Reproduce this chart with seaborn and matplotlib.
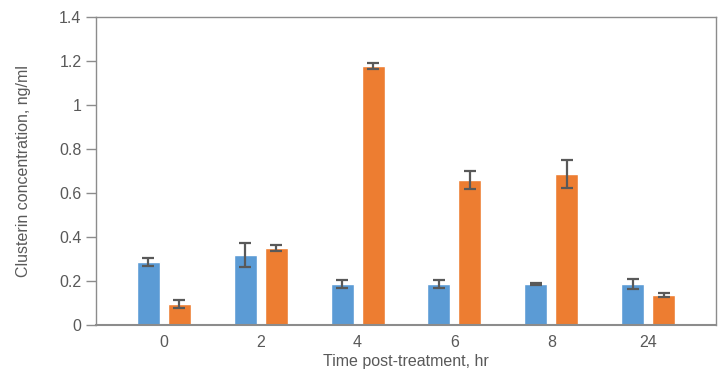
import numpy as np
import pandas as pd
import matplotlib
matplotlib.use("Agg")
import matplotlib.pyplot as plt
from matplotlib.ticker import FuncFormatter
import seaborn as sns

# ── Data ──────────────────────────────────────────────────────────────────────
time_labels = ["0", "2", "4", "6", "8", "24"]
series_names = ["Control", "Treated"]
control_mean = [0.286, 0.318, 0.186, 0.186, 0.186, 0.186]
control_err = [0.020, 0.055, 0.020, 0.020, 0.003, 0.021]
treated_mean = [0.095, 0.350, 1.177, 0.659, 0.686, 0.136]
treated_err = [0.018, 0.015, 0.015, 0.040, 0.063, 0.010]

BLUE = "#5B9BD5"
ORANGE = "#ED7D31"
GREY_TXT = "#595959"
GREY_LINE = "#8C8C8C"

df = pd.DataFrame({
    "time": time_labels * 2,
    "group": [series_names[0]] * 6 + [series_names[1]] * 6,
    "conc": control_mean + treated_mean,
    "err": control_err + treated_err,
})

sns.set_style("white")
plt.rcParams["font.family"] = ["Liberation Sans", "DejaVu Sans"]

fig = plt.figure(figsize=(7.2, 3.75), dpi=100)
ax = fig.add_axes([96 / 720, 1 - 325 / 375, 620 / 720, 308 / 375])

sns.barplot(
    data=df, x="time", y="conc", hue="group", order=time_labels,
    hue_order=series_names, palette=[BLUE, ORANGE], errorbar=None,
    width=0.64, gap=0.26, saturation=1, legend=False, ax=ax,
)

# error bars on bar centres (containers follow hue_order)
for cont, means, errs in zip(ax.containers,
                             [control_mean, treated_mean],
                             [control_err, treated_err]):
    xs = [p.get_x() + p.get_width() / 2 for p in cont.patches]
    ax.errorbar(xs, means, yerr=errs, fmt="none",
                ecolor=GREY_TXT, elinewidth=1.6, capsize=4, capthick=1.6,
                zorder=3)

ax.set_xlim(-0.7, 5.7)
ax.set_ylim(0, 1.4)
ax.set_yticks(np.arange(0, 1.41, 0.2))
ax.yaxis.set_major_formatter(FuncFormatter(lambda v, _: f"{v:g}"))

for side in ["left", "right", "top", "bottom"]:
    ax.spines[side].set_visible(True)
    ax.spines[side].set_color(GREY_LINE)
    ax.spines[side].set_linewidth(1.0)
ax.spines["bottom"].set_linewidth(1.5)

ax.tick_params(axis="y", direction="out", length=7, width=1,
               color=GREY_LINE, labelsize=11.5, labelcolor=GREY_TXT, left=True)
ax.tick_params(axis="x", length=0, labelsize=11.5, labelcolor=GREY_TXT, pad=7)

ax.set_xlabel("Time post-treatment, hr", fontsize=11.5, color=GREY_TXT,
              labelpad=3)
ax.set_ylabel("Clusterin concentration, ng/ml", fontsize=11.5, color=GREY_TXT,
              labelpad=20)

fig.savefig("out.png", dpi=100)
